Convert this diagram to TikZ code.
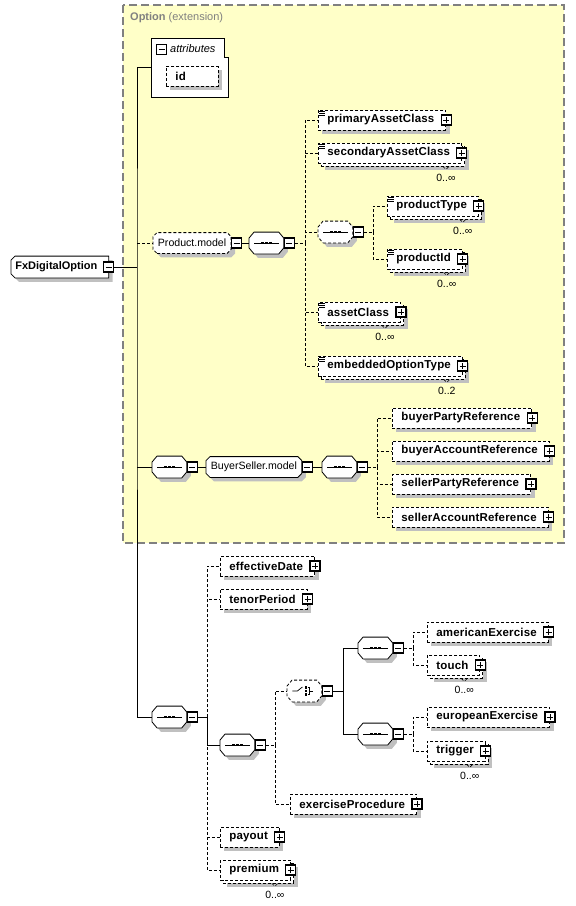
\documentclass[tikz,border=0pt]{standalone}
\usepackage{fontspec}
\setmainfont{Liberation Sans}
\newfontfamily\elemfont[LetterSpace=1.5]{Liberation Sans}
\usetikzlibrary{shadows}
\definecolor{extfill}{RGB}{255,255,200}
\definecolor{shadowgray}{RGB}{192,192,192}
\definecolor{extgray}{RGB}{128,128,128}

% box with cut corners (compositors, groups, global element)
\makeatletter
\newdimen\octxa \newdimen\octya \newdimen\octxb \newdimen\octyb
\newdimen\octl \newdimen\octr \newdimen\octv
\pgfkeys{/pgf/cut left/.initial=5pt, /pgf/cut right/.initial=5pt, /pgf/cut down/.initial=6pt}
\pgfdeclareshape{cutbox}{
  \inheritsavedanchors[from=rectangle]
  \inheritanchorborder[from=rectangle]
  \inheritanchor[from=rectangle]{center}
  \inheritanchor[from=rectangle]{north}
  \inheritanchor[from=rectangle]{south}
  \inheritanchor[from=rectangle]{east}
  \inheritanchor[from=rectangle]{west}
  \inheritanchor[from=rectangle]{north east}
  \inheritanchor[from=rectangle]{north west}
  \inheritanchor[from=rectangle]{south east}
  \inheritanchor[from=rectangle]{south west}
  \inheritanchor[from=rectangle]{base}
  \inheritanchor[from=rectangle]{mid}
  \backgroundpath{
    \southwest \octxa=\pgf@x \octya=\pgf@y
    \northeast \octxb=\pgf@x \octyb=\pgf@y
    \pgfmathsetlength\octl{\pgfkeysvalueof{/pgf/cut left}}
    \pgfmathsetlength\octr{\pgfkeysvalueof{/pgf/cut right}}
    \pgfmathsetlength\octv{\pgfkeysvalueof{/pgf/cut down}}
    \pgfpathmoveto{\pgfqpoint{\dimexpr\octxa+\octl\relax}{\octya}}
    \pgfpathlineto{\pgfqpoint{\dimexpr\octxb-\octr\relax}{\octya}}
    \pgfpathlineto{\pgfqpoint{\octxb}{\dimexpr\octya+\octv\relax}}
    \pgfpathlineto{\pgfqpoint{\octxb}{\dimexpr\octyb-\octv\relax}}
    \pgfpathlineto{\pgfqpoint{\dimexpr\octxb-\octr\relax}{\octyb}}
    \pgfpathlineto{\pgfqpoint{\dimexpr\octxa+\octl\relax}{\octyb}}
    \pgfpathlineto{\pgfqpoint{\octxa}{\dimexpr\octyb-\octv\relax}}
    \pgfpathlineto{\pgfqpoint{\octxa}{\dimexpr\octya+\octv\relax}}
    \pgfpathclose
  }
}
\makeatother

\tikzset{
  txt/.style={font=\fontsize{11pt}{13pt}\selectfont},
  opt/.style={dash pattern=on 3pt off 2pt},
  link/.style={line width=0.8pt},
  optlink/.style={link, opt},
  shad/.style={drop shadow={shadow xshift=4pt, shadow yshift=-4pt, fill=shadowgray, opacity=1}},
  % element boxes
  elem/.style={font=\fontsize{11.5pt}{13pt}\elemfont\bfseries, draw, fill=white,
    line width=0.8pt, opt, anchor=west, minimum height=20pt, inner ysep=0pt, inner xsep=9pt,
    execute at end node={\hspace{2.5pt}}},
  single/.style={elem, shad},
  multi/.style={elem, drop shadow={shadow xshift=7pt, shadow yshift=-7pt, fill=shadowgray, opacity=1},
    copy shadow={shadow xshift=3pt, shadow yshift=-3pt, draw=black, fill=white, opt}},
  doc/.style={path picture={
    \foreach \d in {1.5,3.5,5.5}
      \draw[solid, line width=0.6pt] ([xshift=1pt, yshift=-\d pt]path picture bounding box.north west) -- ++(6pt,0);}},
  root/.style={font=\fontsize{11pt}{13pt}\selectfont\bfseries, draw, fill=white, line width=0.8pt,
    shape=cutbox, cut left=4pt, cut right=0pt, cut down=4pt, anchor=west,
    minimum height=21pt, inner ysep=0pt, inner xsep=4pt, execute at end node={\hspace{7pt}}, shad},
  grp/.style={font=\fontsize{10.6pt}{12pt}\selectfont, draw, fill=white, line width=0.8pt,
    shape=cutbox, cut left=4pt, cut right=4pt, cut down=4pt,
    anchor=west, minimum height=20pt, inner ysep=0pt, inner xsep=4.5pt, shad},
  % compositors
  comp/.style={draw, fill=white, line width=0.8pt, shape=cutbox, cut left=5pt, cut right=5pt, cut down=6pt,
    anchor=west, minimum width=34pt, minimum height=21pt, inner sep=0pt, shad},
  seq/.style={comp, path picture={
    \draw[solid, line width=0.8pt] ([xshift=5pt]path picture bounding box.west) -- ([xshift=-5pt]path picture bounding box.east);
    \foreach \d in {-4,0,4}
      \fill[black] ([xshift=\d pt]path picture bounding box.center) +(-1.3pt,-1.3pt) rectangle +(1.3pt,1.3pt);}},
  choice/.style={comp, opt, path picture={
    \draw[solid, line width=0.7pt] ([xshift=-12pt]path picture bounding box.center) -- ([xshift=-7pt]path picture bounding box.center)
      -- ([xshift=-2pt, yshift=4pt]path picture bounding box.center);
    \foreach \d in {-3.5,0,3.5}
      \fill[black] ([xshift=1.5pt, yshift=\d pt]path picture bounding box.center) +(-1.2pt,-1.2pt) rectangle +(1.2pt,1.2pt);
    \draw[solid, line width=0.7pt] ([xshift=3.5pt, yshift=3.5pt]path picture bounding box.center) -- ([xshift=5pt, yshift=3.5pt]path picture bounding box.center)
      -- ([xshift=5pt, yshift=-3.5pt]path picture bounding box.center) -- ([xshift=3.5pt, yshift=-3.5pt]path picture bounding box.center)
      ([xshift=5pt]path picture bounding box.center) -- ([xshift=9pt]path picture bounding box.center);}},
  % expand / collapse boxes
  togl/.style={draw, fill=white, solid, line width=1.1pt, minimum size=10pt, inner sep=0pt},
  minus/.style={togl, path picture={
    \draw[line width=0.9pt] ([xshift=2pt]path picture bounding box.west) -- ([xshift=-2pt]path picture bounding box.east);}},
  plus/.style={togl, path picture={
    \draw[line width=0.9pt] ([xshift=2pt]path picture bounding box.west) -- ([xshift=-2pt]path picture bounding box.east)
      ([yshift=2pt]path picture bounding box.south) -- ([yshift=-2pt]path picture bounding box.north);}},
  mult/.style={font=\fontsize{10.5pt}{12pt}\selectfont, inner sep=0pt},
  notch/.style={line width=0.6pt, opt},
}
\begin{document}
\begin{tikzpicture}[x=1pt,y=-1pt]
\useasboundingbox (0,0) rectangle (576,906);

% Option extension frame
\draw[fill=extfill, draw=extgray, line width=1.2pt, dash pattern=on 8pt off 4pt] (123,5) rectangle (564,543);
\node[txt, text=extgray, anchor=west, inner sep=0pt] (ext) at (130,18) {\textbf{Option} (extension)};

% root element
\node[root] (fxo) at (11,267) {FxDigitalOption};
\node[minus] (fxom) at (fxo.east) {};
\coordinate (tr) at (137,267);

% attributes
\node[minimum width=77pt, minimum height=59pt, anchor=north west, inner sep=0pt] (attr) at (151,38) {};
\draw[fill=white, line width=0.8pt] (attr.south west) |- ([xshift=-4pt]attr.north east)
  |- ([yshift=-19pt]attr.north east) -- (attr.south east) -- cycle;
\node[minus] (attrm) at (161.5,49.5) {};
\node[font=\fontsize{11pt}{13pt}\selectfont\itshape, anchor=west, inner sep=0pt] (attrt) at (170,49) {attributes};
\node[single] (id) at (166,76) {\makebox[31pt][l]{id}};

% Product.model group
\node[grp, opt] (pmod) at (153,243) {Product.model};
\node[minus, anchor=west] (pmodm) at (pmod.east) {};
\node[seq] (seqP) at (249,243) {};
\node[minus, anchor=west] (seqPm) at (seqP.east) {};
\coordinate (trP) at ([xshift=10pt]seqPm.east);

\node[single, doc] (pac) at (318,120) {primaryAssetClass};
\node[plus] (pacp) at (pac.east) {};
\node[multi, doc] (sac) at (318,153) {secondaryAssetClass};
\node[plus] (sacp) at (sac.east) {};
\node[mult] (sacn) at ([xshift=-16pt, yshift=-14pt]sac.south east) {0..∞};

\node[seq, opt] (seqI) at (318,232) {};
\node[minus, anchor=west] (seqIm) at (seqI.east) {};
\coordinate (trI) at ([xshift=9pt]seqIm.east);
\node[multi, doc] (ptype) at (387,206) {productType};
\node[plus] (ptypep) at (ptype.east) {};
\node[mult] (ptypen) at ([xshift=-16pt, yshift=-14pt]ptype.south east) {0..∞};
\node[multi, doc] (pid) at (387,259) {productId};
\node[plus] (pidp) at (pid.east) {};
\node[mult] (pidn) at ([xshift=-16pt, yshift=-14pt]pid.south east) {0..∞};

\node[multi, doc] (acl) at (318,312) {assetClass};
\node[plus] (aclp) at (acl.east) {};
\node[mult] (acln) at ([xshift=-16pt, yshift=-14pt]acl.south east) {0..∞};
\node[multi, doc] (eot) at (318,366) {embeddedOptionType};
\node[plus] (eotp) at (eot.east) {};
\node[mult] (eotn) at ([xshift=-16pt, yshift=-14pt]eot.south east) {0..2};

% BuyerSeller.model group
\node[seq] (seqB) at (152,467) {};
\node[minus, anchor=west] (seqBm) at (seqB.east) {};
\node[grp] (bsm) at (206,467) {BuyerSeller.model};
\node[minus, anchor=west] (bsmm) at (bsm.east) {};
\node[seq] (seqB2) at (322,467) {};
\node[minus, anchor=west] (seqB2m) at (seqB2.east) {};
\coordinate (trB) at ([xshift=9pt]seqB2m.east);

\node[single] (bpr) at (392,418) {buyerPartyReference};
\node[plus] (bprp) at (bpr.east) {};
\node[single] (bar) at (392,451) {buyerAccountReference};
\node[plus] (barp) at (bar.east) {};
\node[single] (spr) at (392,484) {sellerPartyReference};
\node[plus] (sprp) at (spr.east) {};
\node[single] (sar) at (392,517) {sellerAccountReference};
\node[plus] (sarp) at (sar.east) {};

% own content
\node[seq] (seqM) at (152,717) {};
\node[minus, anchor=west] (seqMm) at (seqM.east) {};
\coordinate (trM) at ([xshift=9pt]seqMm.east);

\node[single] (efd) at (220,566) {effectiveDate};
\node[plus] (efdp) at (efd.east) {};
\node[single] (tnp) at (220,599) {tenorPeriod};
\node[plus] (tnpp) at (tnp.east) {};

\node[seq] (seqN) at (220,745) {};
\node[minus, anchor=west] (seqNm) at (seqN.east) {};
\coordinate (trN) at ([xshift=9pt]seqNm.east);

\node[choice] (chc) at (287,691) {};
\node[minus, anchor=west] (chcm) at (chc.east) {};
\coordinate (trC) at ([xshift=10pt]chcm.east);

\node[seq] (seqA) at (358,648) {};
\node[minus, anchor=west] (seqAm) at (seqA.east) {};
\coordinate (trA) at ([xshift=9pt]seqAm.east);
\node[single] (amx) at (427,632) {americanExercise};
\node[plus] (amxp) at (amx.east) {};
\node[multi] (tch) at (427,665) {touch};
\node[plus] (tchp) at (tch.east) {};
\node[mult] (tchn) at ([xshift=-16pt, yshift=-14pt]tch.south east) {0..∞};

\node[seq] (seqE) at (358,734) {};
\node[minus, anchor=west] (seqEm) at (seqE.east) {};
\coordinate (trE) at ([xshift=9pt]seqEm.east);
\node[single] (eux) at (427,717) {europeanExercise};
\node[plus] (euxp) at (eux.east) {};
\node[multi] (trg) at (427,751) {trigger};
\node[plus] (trgp) at (trg.east) {};
\node[mult] (trgn) at ([xshift=-16pt, yshift=-14pt]trg.south east) {0..∞};

\node[single] (exp) at (290,804) {exerciseProcedure};
\node[plus] (expp) at (exp.east) {};

\node[single] (pay) at (220,837) {payout};
\node[plus] (payp) at (pay.east) {};
\node[multi] (prm) at (220,870) {premium};
\node[plus] (prmp) at (prm.east) {};
\node[mult] (prmn) at ([xshift=-16pt, yshift=-14pt]prm.south east) {0..∞};

% small marks under repeated elements
\foreach \c in {sac,ptype,pid,acl,eot,tch,trg,prm}
  \draw[notch] ([xshift=-19pt, yshift=-3pt]\c.south east) -- ++(3,3) -- ++(3,-3);

% connectors
\draw[link] (fxom.east) -- (tr);
\draw[link] (attr.west) -| (tr) |- (seqM.west);
\draw[optlink] (pmod.west -| tr) -- (pmod.west);
\draw[link] (seqB.west -| tr) -- (seqB.west);

\draw[link] (pmodm.east) -- (seqP.west);
\draw[optlink] (seqPm.east) -- (trP);
\foreach \c in {pac,sac,seqI,acl,eot}
  \draw[optlink] (trP) |- (\c.west);
\draw[optlink] (seqIm.east) -- (trI);
\foreach \c in {ptype,pid}
  \draw[optlink] (trI) |- (\c.west);

\draw[link] (seqBm.east) -- (bsm.west);
\draw[link] (bsmm.east) -- (seqB2.west);
\draw[optlink] (seqB2m.east) -- (trB);
\foreach \c in {bpr,bar,spr,sar}
  \draw[optlink] (trB) |- (\c.west);

\draw[link] (seqMm.east) -- (trM);
\foreach \c in {efd,tnp,pay,prm}
  \draw[optlink] (trM) |- (\c.west);
\draw[link] (trM) |- (seqN.west);

\draw[optlink] (seqNm.east) -- (trN);
\foreach \c in {chc,exp}
  \draw[optlink] (trN) |- (\c.west);
\draw[link] (chcm.east) -- (trC);
\foreach \c in {seqA,seqE}
  \draw[link] (trC) |- (\c.west);
\draw[optlink] (seqAm.east) -- (trA);
\foreach \c in {amx,tch}
  \draw[optlink] (trA) |- (\c.west);
\draw[optlink] (seqEm.east) -- (trE);
\foreach \c in {eux,trg}
  \draw[optlink] (trE) |- (\c.west);
\end{tikzpicture}
\end{document}
